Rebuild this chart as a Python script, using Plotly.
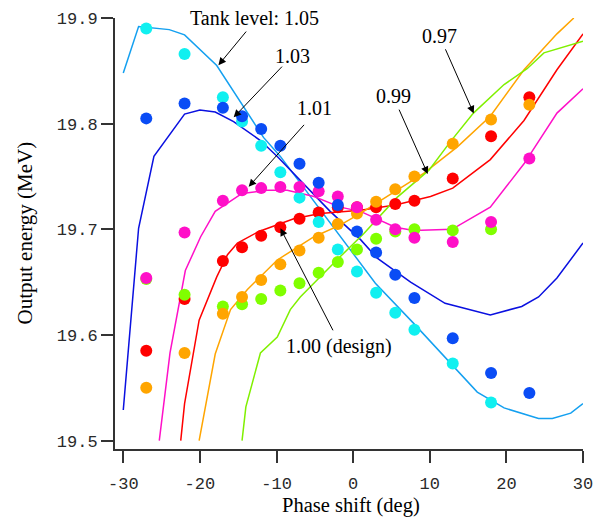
import plotly.graph_objects as go

# ---------------- data ----------------
phase_pts = [-27, -22, -17, -14.5, -12, -9.5, -7, -4.5, -2, 0.5, 3, 5.5, 8, 13, 18, 23]

meas_105 = [19.890, 19.866, 19.825, 19.802, 19.779, 19.754, 19.730, 19.707, 19.681,
            19.660, 19.640, 19.621, 19.605, 19.573, 19.536]
meas_103 = [19.805, 19.819, 19.815, 19.807, 19.795, 19.779, 19.762, 19.744, 19.723,
            19.698, 19.678, 19.657, 19.635, 19.597, 19.564, 19.545]
meas_101 = [19.654, 19.697, 19.727, 19.737, 19.739, 19.740, 19.740, 19.736, 19.731,
            19.721, 19.709, 19.700, 19.692, 19.688, 19.707, 19.767]
meas_100 = [19.585, 19.634, 19.670, 19.683, 19.694, 19.702, 19.710, 19.716, 19.721,
            19.721, 19.721, 19.724, 19.727, 19.748, 19.788, 19.825]
meas_099 = [19.550, 19.583, 19.620, 19.636, 19.652, 19.667, 19.680, 19.692, 19.705,
            19.715, 19.726, 19.738, 19.750, 19.781, 19.804, 19.818]
meas_097 = [19.653, 19.638, 19.627, 19.629, 19.634, 19.642, 19.649, 19.659, 19.669,
            19.681, 19.691, 19.698, 19.700, 19.699, 19.700]

sim_105_x = [-30, -28, -24, -22, -17.8, -11.7, -9.5, -1.2, 2.9, 7.9, 12.9, 16.2, 19.7, 24.2, 26, 28.4, 30]
sim_105_y = [19.848, 19.892, 19.889, 19.884, 19.855, 19.787, 19.769, 19.689, 19.649, 19.611,
             19.572, 19.546, 19.531, 19.521, 19.521, 19.526, 19.535]
sim_103_x = [-30, -28, -26, -22, -20, -18, -15.6, -12.1, -9.9, -3, 1, 3.1, 7.5, 12, 17.9, 22, 24.2, 26.6, 30]
sim_103_y = [19.529, 19.701, 19.769, 19.809, 19.813, 19.811, 19.802, 19.784, 19.769, 19.717,
             19.690, 19.673, 19.650, 19.630, 19.619, 19.627, 19.636, 19.654, 19.687]
sim_101_x = [-25.3, -23.9, -21.9, -19.9, -18, -14.5, -11.2, -8.6, -5.1, -1.7, 0.95, 3, 5.5, 7.9,
             12.9, 17.9, 22.3, 26.6, 30]
sim_101_y = [19.500, 19.583, 19.661, 19.693, 19.717, 19.734, 19.737, 19.737, 19.731, 19.721,
             19.717, 19.710, 19.702, 19.699, 19.700, 19.721, 19.762, 19.810, 19.833]
sim_100_x = [-22.5, -22, -20.1, -17.8, -16.4, -15.1, -12.3, -7.75, -4.3, 0.95, 5.5, 10.1, 13,
             17.9, 22.3, 26.6, 30]
sim_100_y = [19.500, 19.535, 19.614, 19.655, 19.676, 19.687, 19.698, 19.710, 19.715, 19.718,
             19.723, 19.731, 19.739, 19.766, 19.803, 19.851, 19.885]
sim_099_x = [-20.1, -19.1, -18, -16, -13.8, -9.9, -5.1, -1.7, 0.95, 3.1, 9.2, 13.6, 17.9, 22.3, 26.6, 28.8]
sim_099_y = [19.500, 19.539, 19.582, 19.624, 19.643, 19.671, 19.693, 19.704, 19.715, 19.725,
             19.753, 19.778, 19.807, 19.851, 19.885, 19.900]
sim_097_x = [-14.5, -14, -12.1, -9.9, -8.2, -6.9, -1.7, 1.4, 5.7, 9.9, 12.7, 15.7, 19.7, 22.7, 24.9, 30]
sim_097_y = [19.500, 19.532, 19.583, 19.598, 19.624, 19.636, 19.674, 19.696, 19.730, 19.756,
             19.783, 19.810, 19.837, 19.852, 19.867, 19.878]

x_ticks = [-30, -20, -10, 0, 10, 20, 30]
y_ticks = [19.5, 19.6, 19.7, 19.8, 19.9]

# label text, arrow tail (x, y), arrow head (x, y), text centre (x, y)
labels = ["Tank level: 1.05", "1.03", "1.01", "0.99", "0.97", "1.00 (design)"]
arrow_tail = [(-13.8, 19.8886), (-9.1, 19.8554), (-6.23, 19.8003), (5.91, 19.8147),
              (11.96, 19.8718), (-2.53, 19.6030)]
arrow_head = [(-17.58, 19.8554), (-15.59, 19.8060), (-13.63, 19.7403), (9.74, 19.7523),
              (15.74, 19.8097), (-9.49, 19.7010)]
label_pos = [(-12.85, 19.9000), (-7.86, 19.8640), (-5.05, 19.8144), (5.26, 19.8265),
             (11.27, 19.8830), (-1.80, 19.5895)]

# ---------------- styles ----------------
line_colors = {"105": "#14a0f0", "103": "#0a10e0", "101": "#ff10c8",
               "100": "#ff0000", "099": "#ffa500", "097": "#80f000"}
dot_colors = {"105": "#10f0f0", "103": "#0a4cf5", "101": "#ff10c8",
              "100": "#ff0000", "099": "#ffa500", "097": "#80ff00"}

fig = go.Figure()

sims = [("105", sim_105_x, sim_105_y), ("103", sim_103_x, sim_103_y),
        ("101", sim_101_x, sim_101_y), ("100", sim_100_x, sim_100_y),
        ("099", sim_099_x, sim_099_y), ("097", sim_097_x, sim_097_y)]
for key, xs, ys in sims:
    fig.add_trace(go.Scatter(x=xs, y=ys, mode="lines",
                             line=dict(color=line_colors[key], width=1.5),
                             showlegend=False, hoverinfo="skip"))

meas_order = [("100", meas_100), ("097", meas_097), ("099", meas_099),
              ("105", meas_105), ("101", meas_101), ("103", meas_103)]
for key, ys in meas_order:
    fig.add_trace(go.Scatter(x=phase_pts[:len(ys)], y=ys, mode="markers",
                             marker=dict(color=dot_colors[key], size=12, line=dict(width=0)),
                             showlegend=False))

serif = "Liberation Serif, Times New Roman, serif"
mono = "Liberation Mono, Courier New, monospace"

annotations = []
for (tx, ty), (hx, hy) in zip(arrow_tail, arrow_head):
    annotations.append(dict(x=hx, y=hy, ax=tx, ay=ty, xref="x", yref="y",
                            axref="x", ayref="y", text="", showarrow=True,
                            arrowhead=2, arrowsize=1.5, arrowwidth=1,
                            arrowcolor="black", standoff=0, startstandoff=0))
for txt, (lx, ly) in zip(labels, label_pos):
    annotations.append(dict(x=lx, y=ly, xref="x", yref="y", text=txt, showarrow=False,
                            font=dict(family=serif, size=20, color="black"),
                            xanchor="center", yanchor="middle"))

annotations.append(dict(x=0.5053, y=-0.132, xref="paper", yref="paper",
                        text="Phase shift (deg)", showarrow=False,
                        font=dict(family=serif, size=20.5, color="black"),
                        xanchor="center", yanchor="middle"))
annotations.append(dict(x=-0.1944, y=0.50, xref="paper", yref="paper",
                        text="Output energy (MeV)", showarrow=False, textangle=-90,
                        font=dict(family=serif, size=21, color="black"),
                        xanchor="center", yanchor="middle"))

axis_common = dict(showline=True, linewidth=2, linecolor="#333333", ticks="outside",
                   ticklen=12, tickwidth=2, tickcolor="#333333", showgrid=False,
                   zeroline=False, mirror=False, automargin=False,
                   tickfont=dict(family=mono, size=17, color="#2a2a2a"))

fig.update_layout(
    template="none",
    width=594, height=518,
    margin=dict(l=115, r=11, t=18, b=69),
    paper_bgcolor="white", plot_bgcolor="white",
    xaxis=dict(range=[-31.08, 30], tickmode="array", tickvals=x_ticks,
               ticktext=[str(v) for v in x_ticks], ticklabelstandoff=6, **axis_common),
    yaxis=dict(range=[19.4921, 19.9], tickmode="array", tickvals=y_ticks,
               ticktext=[f"{v:.1f}" for v in y_ticks], **axis_common),
    annotations=annotations,
)

fig.write_html("out.html")
